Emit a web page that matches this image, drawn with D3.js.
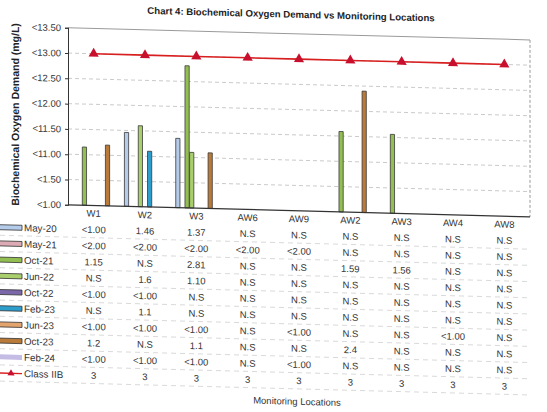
<!DOCTYPE html>
<html><head><meta charset="utf-8">
<script src="https://cdn.jsdelivr.net/npm/d3@7"></script>
<style>
body{margin:0;background:#fff;}
svg{display:block;font-family:"Liberation Sans",Arial,sans-serif;}
</style></head>
<body>
<svg id="c" width="547" height="412"></svg>
<script>
// ---- data ----
const locations = ["W1","W2","W3","AW6","AW9","AW2","AW3","AW4","AW8"];
const seriesNames = ["May-20","May-21","Oct-21","Jun-22","Oct-22","Feb-23","Jun-23","Oct-23","Feb-24"];
const may20 = ["<1.00","1.46","1.37","N.S","N.S","N.S","N.S","N.S","N.S"];
const may21 = ["<2.00","<2.00","<2.00","<2.00","<2.00","N.S","N.S","N.S","N.S"];
const oct21 = ["1.15","N.S","2.81","N.S","N.S","1.59","1.56","N.S","N.S"];
const jun22 = ["N.S","1.6","1.10","N.S","N.S","N.S","N.S","N.S","N.S"];
const oct22 = ["<1.00","<1.00","N.S","N.S","N.S","N.S","N.S","N.S","N.S"];
const feb23 = ["N.S","1.1","N.S","N.S","N.S","N.S","N.S","N.S","N.S"];
const jun23 = ["<1.00","<1.00","<1.00","N.S","<1.00","N.S","N.S","<1.00","N.S"];
const oct23 = ["1.2","N.S","1.1","N.S","N.S","2.4","N.S","N.S","N.S"];
const feb24 = ["<1.00","<1.00","<1.00","N.S","<1.00","N.S","N.S","N.S","N.S"];
const classIIB = [3,3,3,3,3,3,3,3,3];
const classLabel = "Class IIB";
const yTickValues = [0,0.5,1,1.5,2,2.5,3,3.5];
const yTickLabels = ["<1.00","<1.50","<11.00","<11.50","<12.00","<12.50","<13.00","<13.50"];
const seriesColors = ["#b4cbe9","#dcaab4","#93bf52","#a9cf6c","#7b68aa","#2d9dcc","#e3a46e","#b97a3a","#c4bce4"];
const title = "Chart 4: Biochemical Oxygen Demand vs Monitoring Locations";
const yTitle = "Biochemical Oxygen Demand (mg/L)";
const xTitle = "Monitoring Locations";

const seriesValues = [may20,may21,oct21,jun22,oct22,feb23,jun23,oct23,feb24];

// ---- layout ----
const svg = d3.select("#c");
svg.append("rect").attr("width",547).attr("height",412).attr("fill","#fff");
const g = svg.append("g").attr("transform","skewY(1.5)");

const pLeft = 68, pRight = 530, pTop = 26, pBottom = 203;
const x = d3.scaleBand().domain(locations).range([pLeft,pRight]).paddingInner(0.19).paddingOuter(0.095);
const x1 = d3.scaleBand().domain(seriesNames).range([0,x.bandwidth()]);
const y = d3.scaleLinear().domain([0,3.5]).range([pBottom,pTop]);

// gridlines
g.append("g").selectAll("line").data(yTickValues.slice(1,-1)).join("line")
  .attr("x1",pLeft).attr("x2",pRight).attr("y1",d=>y(d)).attr("y2",d=>y(d))
  .attr("stroke","#bdbdbd").attr("stroke-width",0.8).attr("stroke-dasharray","4,3");
// plot border top/right
g.append("line").attr("x1",pLeft).attr("x2",pRight).attr("y1",y(3.5)).attr("y2",y(3.5)).attr("stroke","#9a9a9a").attr("stroke-width",1);
g.append("line").attr("x1",pRight).attr("x2",pRight).attr("y1",y(3.5)).attr("y2",y(0)).attr("stroke","#9a9a9a").attr("stroke-width",1).attr("stroke-dasharray","3,2");

// bars
const bars = [];
seriesValues.forEach((arr,si)=>arr.forEach((v,li)=>{
  if(/^[0-9.]+$/.test(v)) bars.push({s:seriesNames[si],si,loc:locations[li],v:+v});
}));
g.append("g").selectAll("rect").data(bars).join("rect")
  .attr("x",d=>x(d.loc)+x1(d.s)+0.2).attr("width",x1.bandwidth()-0.4)
  .attr("y",d=>y(d.v)).attr("height",d=>y(0)-y(d.v))
  .attr("fill",d=>seriesColors[d.si]).attr("stroke","#3a3a3a").attr("stroke-width",0.8);

// class IIB line
const line = d3.line().x((d,i)=>x(locations[i])+x.bandwidth()/2).y(d=>y(d));
g.append("path").datum(classIIB).attr("d",line).attr("fill","none").attr("stroke","#d81e1e").attr("stroke-width",1.6);
const tri = d3.symbol().type(d3.symbolTriangle).size(45);
g.append("g").selectAll("path").data(classIIB).join("path")
  .attr("d",tri).attr("transform",(d,i)=>`translate(${x(locations[i])+x.bandwidth()/2},${y(d)})`)
  .attr("fill","#c8102e");

// axes
const yAxis = d3.axisLeft(y).tickValues(yTickValues).tickFormat((d,i)=>yTickLabels[i]).tickSize(3).tickPadding(4);
const ya = g.append("g").attr("transform",`translate(${pLeft},0)`).call(yAxis);
ya.selectAll("text").attr("font-size",9.5).attr("fill","#333").attr("font-family","Liberation Sans, Arial");
ya.select(".domain").attr("stroke","#333");
ya.selectAll(".tick line").attr("stroke","#333");
g.append("line").attr("x1",pLeft).attr("x2",pRight).attr("y1",pBottom).attr("y2",pBottom).attr("stroke","#333").attr("stroke-width",1.2);

// titles
g.append("text").attr("x",291).attr("y",10).attr("text-anchor","middle")
  .attr("font-size",9.6).attr("font-weight","bold").attr("fill","#222").text(title);
g.append("text").attr("transform","translate(19,114) rotate(-90)").attr("text-anchor","middle")
  .attr("font-size",10.5).attr("font-weight","bold").attr("fill","#222").text(yTitle);
g.append("text").attr("x",297).attr("y",397).attr("text-anchor","middle")
  .attr("font-size",9.5).attr("fill","#333").text(xTitle);

// data table
const rowH = 16.2, headY = 211;
const cx = l => x(l)+x.bandwidth()/2;
g.append("g").selectAll("text").data(locations).join("text")
  .attr("x",cx).attr("y",headY).attr("dy","0.35em").attr("text-anchor","middle")
  .attr("font-size",9.5).attr("fill","#333").text(d=>d);

const rows = seriesNames.map((n,i)=>({name:n,vals:seriesValues[i],i}));
rows.push({name:classLabel,vals:classIIB.map(String),i:9});
const rg = g.append("g");
rg.selectAll("line").data(d3.range(1,11)).join("line")
  .attr("x1",0).attr("x2",pRight)
  .attr("y1",d=>headY+rowH*(d+0.5)).attr("y2",d=>headY+rowH*(d+0.5))
  .attr("stroke","#c9c9c9").attr("stroke-width",0.7).attr("stroke-dasharray","5,4");
rows.forEach(r=>{
  const ry = headY + rowH*(r.i+1);
  const rowG = rg.append("g");
  rowG.selectAll("text.v").data(r.vals).join("text").attr("class","v")
    .attr("x",(d,i)=>cx(locations[i])).attr("y",ry).attr("dy","0.35em").attr("text-anchor","middle")
    .attr("font-size",9.5).attr("fill","#333").text(d=>d);
  if(r.i<9){
    rowG.append("rect").attr("x",-1).attr("y",ry-2.5).attr("width",23).attr("height",5)
      .attr("fill",seriesColors[r.i]).attr("stroke",r.i===8?"none":"#333").attr("stroke-width",0.8);
  } else {
    rowG.append("line").attr("x1",0).attr("x2",22).attr("y1",ry).attr("y2",ry).attr("stroke","#d81e1e").attr("stroke-width",1.4);
    rowG.append("path").attr("d",d3.symbol().type(d3.symbolTriangle).size(22)).attr("transform",`translate(11,${ry})`).attr("fill","#c8102e");
  }
  rowG.append("text").attr("x",24).attr("y",ry).attr("dy","0.35em").attr("font-size",9.8).attr("fill","#333").text(r.name);
});
</script>
</body></html>
